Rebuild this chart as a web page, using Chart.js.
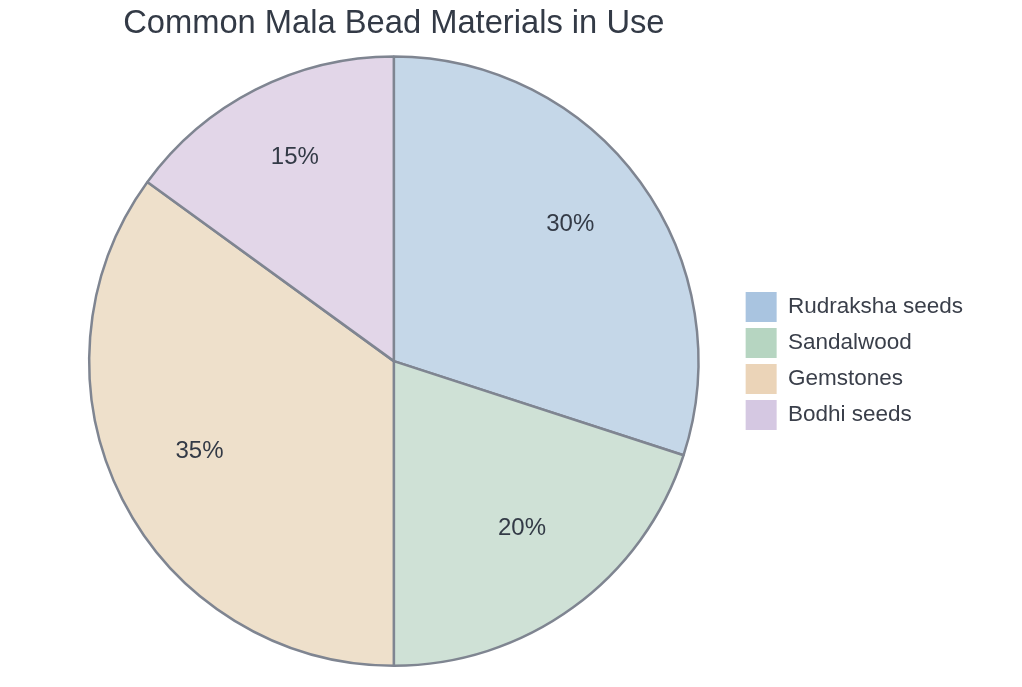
<!DOCTYPE html>
<html>
<head>
<meta charset="utf-8">
<script src="https://cdn.jsdelivr.net/npm/chart.js@4/dist/chart.umd.min.js"></script>
<style>
    html, body { margin: 0; padding: 0; background: #ffffff; }
    #wrap { width: 1022px; height: 687px; }
</style>
</head>
<body>
<div id="wrap"><canvas id="malaChart" width="1022" height="687"></canvas></div>
<script>
const materials = ["Rudraksha seeds", "Sandalwood", "Gemstones", "Bodhi seeds"];
const shares = [30, 20, 35, 15];

const sliceColors = ["#c5d7e8", "#cfe1d6", "#eee0cb", "#e2d6e8"];
const legendColors = ["#a9c4e0", "#b6d5c1", "#ebd4b8", "#d5c8e2"];

// percent text inside each slice
const sliceLabels = {
    id: "sliceLabels",
    afterDatasetsDraw(chart) {
        const ctx = chart.ctx;
        const meta = chart.getDatasetMeta(0);
        ctx.save();
        ctx.font = "24px 'Liberation Sans', Arial, sans-serif";
        ctx.fillStyle = "#333a46";
        ctx.textAlign = "center";
        ctx.textBaseline = "middle";
        meta.data.forEach((arc, i) => {
            const p = arc.getProps(["x", "y", "startAngle", "endAngle", "outerRadius"], true);
            const mid = (p.startAngle + p.endAngle) / 2;
            const r = p.outerRadius * 0.716;
            ctx.fillText(shares[i] + "%", p.x + Math.cos(mid) * r, p.y + Math.sin(mid) * r - 9);
        });
        ctx.restore();
    }
};

new Chart(document.getElementById("malaChart"), {
    type: "pie",
    data: {
        labels: materials,
        datasets: [{
            data: shares,
            backgroundColor: sliceColors,
            borderColor: "#7f8591",
            borderWidth: 2.5
        }]
    },
    options: {
        responsive: false,
        animation: false,
        layout: {
            padding: { top: 0, bottom: 20, left: 48, right: 49 }
        },
        plugins: {
            title: {
                display: true,
                text: "Common Mala Bead Materials in Use",
                fullSize: false,
                color: "#333a46",
                font: { family: "'Liberation Sans', Arial, sans-serif", size: 32.7, weight: "normal" },
                padding: { top: 4, bottom: 12 }
            },
            legend: {
                position: "right",
                fullSize: false,
                labels: {
                    boxWidth: 31,
                    boxHeight: 30,
                    padding: 6,
                    color: "#3a3f4a",
                    font: { family: "'Liberation Sans', Arial, sans-serif", size: 22.5 },
                    generateLabels(chart) {
                        return materials.map((name, i) => ({
                            text: name,
                            fillStyle: legendColors[i],
                            strokeStyle: legendColors[i],
                            lineWidth: 0,
                            fontColor: "#3a3f4a",
                            index: i
                        }));
                    }
                }
            },
            tooltip: { enabled: false }
        }
    },
    plugins: [sliceLabels]
});
</script>
</body>
</html>
